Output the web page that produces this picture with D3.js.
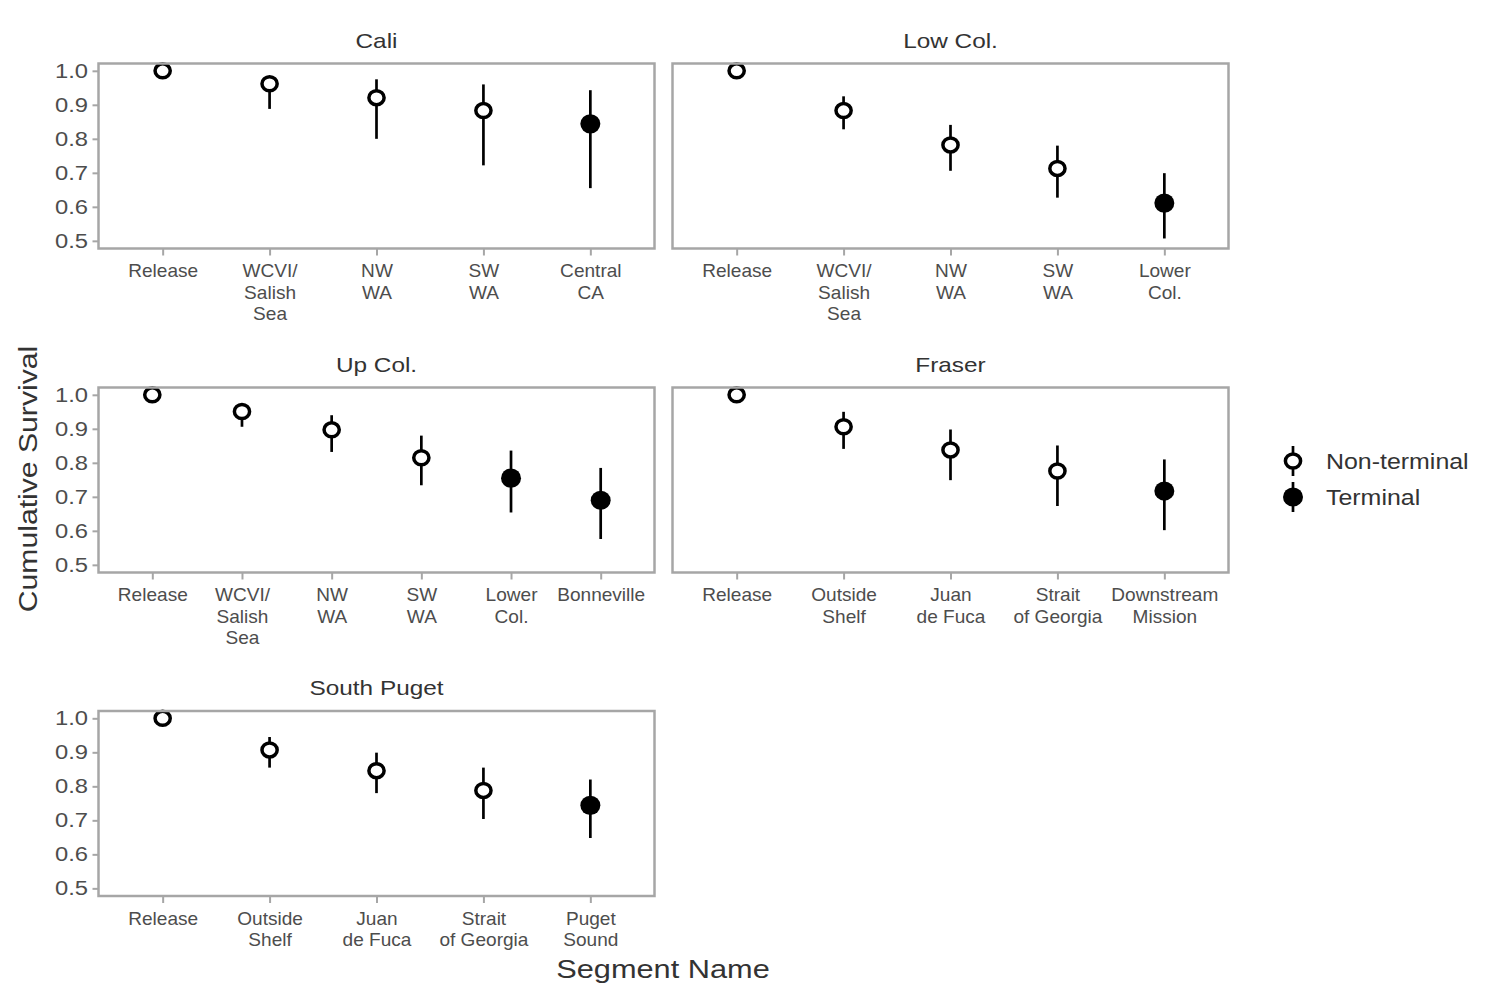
<!DOCTYPE html>
<html>
<head>
<meta charset="utf-8">
<script src="https://cdn.jsdelivr.net/npm/d3@7"></script>
<style>
  body { margin: 0; background: #fff; }
  text { font-family: "Liberation Sans", Arial, Helvetica, sans-serif; }
</style>
</head>
<body>
<svg id="chart" width="1500" height="1000"></svg>
<script>
// ---- Data ----
const panelNames = ["Cali", "Low Col.", "Up Col.", "Fraser", "South Puget"];
const segments = [
  ["Release", "WCVI/\nSalish\nSea", "NW\nWA", "SW\nWA", "Central\nCA"],
  ["Release", "WCVI/\nSalish\nSea", "NW\nWA", "SW\nWA", "Lower\nCol."],
  ["Release", "WCVI/\nSalish\nSea", "NW\nWA", "SW\nWA", "Lower\nCol.", "Bonneville"],
  ["Release", "Outside\nShelf", "Juan\nde Fuca", "Strait\nof Georgia", "Downstream\nMission"],
  ["Release", "Outside\nShelf", "Juan\nde Fuca", "Strait\nof Georgia", "Puget\nSound"]
];
const estimates = [
  [1.0, 0.962, 0.921, 0.883, 0.844],
  [1.0, 0.883, 0.782, 0.713, 0.611],
  [1.0, 0.951, 0.897, 0.815, 0.755, 0.690],
  [1.0, 0.906, 0.838, 0.776, 0.717],
  [1.0, 0.907, 0.846, 0.788, 0.744]
];
const lower = [
  [1.0, 0.888, 0.800, 0.722, 0.655],
  [1.0, 0.828, 0.706, 0.627, 0.507],
  [1.0, 0.906, 0.832, 0.734, 0.654, 0.576],
  [1.0, 0.841, 0.749, 0.673, 0.602],
  [1.0, 0.855, 0.780, 0.704, 0.648]
];
const upper = [
  [1.0, 0.975, 0.975, 0.960, 0.943],
  [1.0, 0.925, 0.841, 0.780, 0.699],
  [1.0, 0.970, 0.940, 0.880, 0.836, 0.785],
  [1.0, 0.950, 0.898, 0.851, 0.810],
  [1.0, 0.945, 0.899, 0.855, 0.820]
];
const terminal = [
  [false, false, false, false, true],
  [false, false, false, false, true],
  [false, false, false, false, true, true],
  [false, false, false, false, true],
  [false, false, false, false, true]
];
const yTicks = [0.5, 0.6, 0.7, 0.8, 0.9, 1.0];
const legendLabels = ["Non-terminal", "Terminal"];

// ---- Layout ----
const svg = d3.select("#chart");
const colX = [98.5, 672.5];
const rowY = [63.5, 387.5, 711];
const pw = 556, ph = 185;
const borderCol = "#a6a6a6";
const tickTextCol = "#4d4d4d";
const titleCol = "#333333";
const SX = 1.16; // horizontal stretch of the reference typography
const FONT = '"Liberation Sans", Arial, sans-serif';

// open/filled point shape sizes (slightly wider than tall, as in the reference)
const openRx = 7.6, openRy = 7.0, openSW = 3.5;
const fillRx = 10, fillRy = 9.6;

const y = d3.scaleLinear().domain([0.4775, 1.0215]).range([ph, 0]);

function stretchedText(parent, x, yy, size, anchor, fill, str) {
  return parent.append("text")
    .attr("transform", `translate(${x},${yy}) scale(${SX},1)`)
    .attr("text-anchor", anchor).attr("font-size", size).attr("fill", fill)
    .attr("font-family", FONT).text(str);
}

panelNames.forEach((name, i) => {
  const col = i % 2, row = Math.floor(i / 2);
  const g = svg.append("g").attr("transform", `translate(${colX[col]},${rowY[row]})`);
  const x = d3.scalePoint().domain(segments[i]).range([0, pw]).padding(0.6);

  // strip title
  stretchedText(g, pw / 2, -16, 21, "middle", titleCol, name);

  // y axis (only on left column)
  if (col === 0) {
    const ya = g.append("g").call(d3.axisLeft(y).tickValues(yTicks).tickFormat(d3.format(".1f")).tickSize(6).tickPadding(3));
    ya.select(".domain").remove();
    ya.selectAll(".tick line").attr("stroke", borderCol).attr("stroke-width", 2);
    ya.selectAll(".tick text").attr("font-size", 20.5).attr("fill", tickTextCol)
      .attr("font-family", FONT).attr("transform", `scale(${SX},1)`);
  }

  // x axis
  const xa = g.append("g").attr("transform", `translate(0,${ph})`)
    .call(d3.axisBottom(x).tickSize(7).tickPadding(4));
  xa.select(".domain").remove();
  xa.selectAll(".tick line").attr("stroke", borderCol).attr("stroke-width", 2);
  xa.selectAll(".tick text").each(function(d) {
    const t = d3.select(this);
    t.text(null).attr("font-size", 18).attr("fill", tickTextCol)
      .attr("font-family", FONT).attr("dy", null).attr("y", 0)
      .attr("transform", `scale(1.06,1)`);
    d.split("\n").forEach((line, k) => {
      t.append("tspan").attr("x", 0).attr("y", 29 + k * 21.5).text(line);
    });
  });

  // error bars
  const data = segments[i].map((s, k) => ({ s, est: estimates[i][k], lo: lower[i][k], hi: upper[i][k], term: terminal[i][k] }));
  g.selectAll("line.err").data(data.filter(d => d.hi > d.lo)).join("line")
    .attr("class", "err")
    .attr("x1", d => x(d.s)).attr("x2", d => x(d.s))
    .attr("y1", d => y(d.lo)).attr("y2", d => y(d.hi))
    .attr("stroke", "#000").attr("stroke-width", 2.7);

  // points
  g.selectAll("ellipse.pt").data(data).join("ellipse")
    .attr("class", "pt")
    .attr("cx", d => x(d.s)).attr("cy", d => y(d.est))
    .attr("rx", d => d.term ? fillRx : openRx)
    .attr("ry", d => d.term ? fillRy : openRy)
    .attr("fill", d => d.term ? "#000" : "#fff")
    .attr("stroke", "#000").attr("stroke-width", d => d.term ? 0 : openSW);

  // panel border
  g.append("rect").attr("x", 0).attr("y", 0).attr("width", pw).attr("height", ph)
    .attr("fill", "none").attr("stroke", borderCol).attr("stroke-width", 2.5);
});

// axis titles
svg.append("text").attr("transform", `translate(37,479) rotate(-90) scale(${SX},1)`)
  .attr("text-anchor", "middle").attr("font-size", 26).attr("fill", titleCol)
  .attr("font-family", FONT).text("Cumulative Survival");
stretchedText(svg, 663, 978, 26.5, "middle", titleCol, "Segment Name");

// legend
const lg = svg.append("g").attr("transform", "translate(1293,461)");
legendLabels.forEach((lab, k) => {
  const gy = k * 36;
  lg.append("line").attr("x1", 0).attr("x2", 0).attr("y1", gy - 15).attr("y2", gy + 15)
    .attr("stroke", "#000").attr("stroke-width", 2.7);
  lg.append("ellipse").attr("cx", 0).attr("cy", gy)
    .attr("rx", k === 1 ? fillRx : openRx).attr("ry", k === 1 ? fillRy : openRy)
    .attr("fill", k === 1 ? "#000" : "#fff").attr("stroke", "#000")
    .attr("stroke-width", k === 1 ? 0 : openSW);
  stretchedText(lg, 33, gy + 8, 21.5, "start", titleCol, lab);
});
</script>
</body>
</html>
